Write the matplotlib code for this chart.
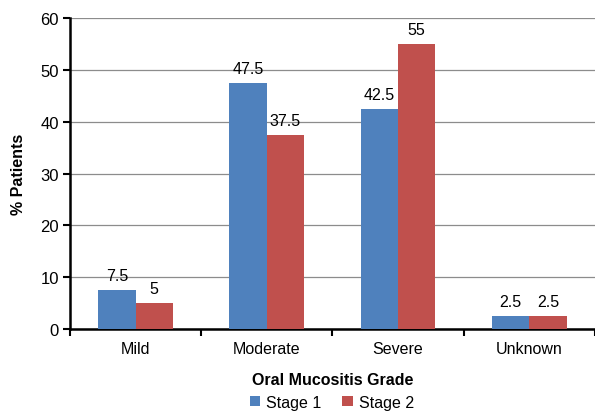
import numpy as np
import matplotlib.pyplot as plt

plt.rcParams['font.family'] = ['Liberation Sans', 'DejaVu Sans']

grades = ['Mild', 'Moderate', 'Severe', 'Unknown']
stage1 = [7.5, 47.5, 42.5, 2.5]
stage2 = [5, 37.5, 55, 2.5]
yticks = [0, 10, 20, 30, 40, 50, 60]

blue = '#4F81BD'
red = '#C0504D'

fig = plt.figure(figsize=(5.95, 4.14), dpi=100)
ax = fig.add_axes([0.1176, 0.203, 0.882, 0.751])

x = np.arange(len(grades))
w = 0.285
b1 = ax.bar(x - w/2, stage1, w, color=blue, label='Stage 1', zorder=3)
b2 = ax.bar(x + w/2, stage2, w, color=red, label='Stage 2', zorder=3)

for bars, vals in ((b1, stage1), (b2, stage2)):
    for rect, v in zip(bars, vals):
        ax.text(rect.get_x() + rect.get_width()/2, v + 1.3, f'{v:g}',
                ha='center', va='bottom', fontsize=11.5)

ax.set_xlim(-0.5, 3.5)
ax.set_ylim(0, 60)
ax.set_yticks(yticks)
ax.yaxis.grid(True, color='#8c8c8c', linewidth=0.9, zorder=0)
ax.set_axisbelow(True)

# category labels centred, tick marks on the slot boundaries
ax.set_xticks(x)
ax.set_xticklabels(grades, fontsize=11.5)
ax.tick_params(axis='x', which='major', length=0, pad=9)
ax.set_xticks(np.arange(-0.5, 4.0, 1.0), minor=True)
ax.tick_params(axis='x', which='minor', length=5, width=1.5, direction='out')
ax.tick_params(axis='y', length=5, width=1.5, labelsize=12, pad=3)

for s in ('top', 'right'):
    ax.spines[s].set_visible(False)
ax.spines['left'].set_linewidth(1.8)
ax.spines['bottom'].set_linewidth(1.8)

ax.set_ylabel('% Patients', fontsize=11.5, fontweight='bold', labelpad=10)
ax.set_xlabel('Oral Mucositis Grade', fontsize=11.5, fontweight='bold', labelpad=11)

fig.legend(handles=[b1, b2], loc='center', bbox_to_anchor=(0.558, 0.026), ncol=2,
           frameon=False, fontsize=11.5, handlelength=0.65, handleheight=0.65,
           handletextpad=0.4, columnspacing=1.3)

fig.savefig('out.png', dpi=100)
